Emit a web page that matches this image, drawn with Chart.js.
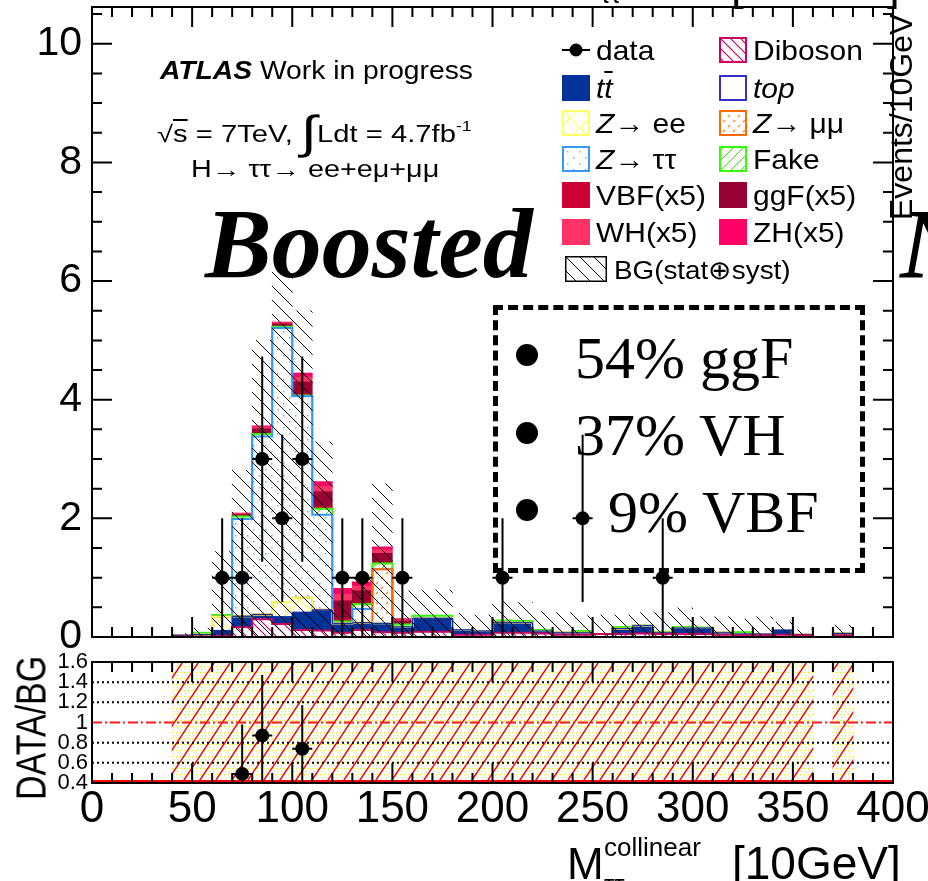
<!DOCTYPE html>
<html lang="en"><head><meta charset="utf-8"><title>Boosted - M collinear</title>
<script src="https://cdn.jsdelivr.net/npm/chart.js@4.4.1/dist/chart.umd.min.js"></script>
<style>
html,body{margin:0;padding:0;background:#fff;}
#wrap{position:relative;width:928px;height:881px;overflow:hidden;font-family:"Liberation Sans",Arial,Helvetica,sans-serif;color:#000;}
#wrap canvas.full{position:absolute;left:0;top:0;}
.t{position:absolute;white-space:nowrap;line-height:1;transform-origin:0 0;}
.serif{font-family:"Liberation Serif","Times New Roman",serif;}
.ov{text-decoration:overline;}
.dot{position:absolute;width:22px;height:22px;border-radius:50%;background:#000;}
#box{position:absolute;left:493px;top:305px;width:362px;height:258px;border:5px dashed #000;}
</style></head>
<body><div id="wrap">
<canvas id="main" class="full" width="928" height="881"></canvas>
<canvas id="ratio" class="full" width="928" height="881"></canvas>
<div id="box"></div>
</div>
<script>
// ---------------- data ----------------
const binCenters = [5,15,25,35,45,55,65,75,85,95,105,115,125,135,145,155,165,175,185,195,205,215,225,235,245,255,265,275,285,295,305,315,325,335,345,355,365,375,385,395];
const diboson = [0,0,0,0,0.01,0.01,0.02,0.17,0.30,0.22, 0.12,0.11,0.07,0.12,0.08,0.07,0.09,0.09,0.04,0.04, 0.07,0.07,0.06,0.04,0.04,0.05,0.05,0.06,0.05,0.05, 0.05,0.04,0.03,0.03,0.04,0.03,0,0.03,0,0];
const ttbar = [0,0,0,0,0.02,0.03,0.09,0.18,0.08,0.12, 0.29,0.34,0.16,0.12,0.15,0.10,0.22,0.22,0.08,0.06, 0.17,0.17,0.04,0.03,0.03,0,0.09,0.13,0.02,0.10, 0.10,0.03,0.02,0.02,0.07,0.01,0,0.03,0,0];
const singleTop = [0,0,0,0,0,0,0,0,0,0, 0.01,0.01,0,0,0,0,0.01,0.01,0,0, 0.01,0,0,0,0,0,0,0,0,0, 0,0,0,0,0.01,0,0,0,0,0];
const zee = [0,0,0,0,0,0,0.23,0,0,0.25, 0.24,0,0,0,0,0,0,0,0,0, 0,0,0,0,0,0,0,0,0,0, 0,0,0,0,0,0,0,0,0,0];
const zmumu = [0,0,0,0,0,0,0,0,0,0, 0,0,0,0,0.91,0,0,0,0,0, 0,0,0,0,0,0,0,0,0,0, 0,0,0,0,0,0,0,0,0,0];
const ztautau = [0,0,0,0,0,0,0,1.64,3.00,4.62, 3.40,1.60,0,0.23,0,0,0,0,0,0, 0,0,0,0,0,0,0,0,0,0, 0,0,0,0,0,0,0,0,0,0];
const fake = [0,0,0,0,0,0.03,0.03,0.04,0.04,0.02, 0.01,0.10,0.03,0.08,0.10,0.04,0.04,0.04,0,0, 0.03,0.03,0.02,0,0.03,0,0.03,0,0.02,0.02, 0.01,0,0.03,0,0,0,0,0,0,0];
const vbf = [0,0,0,0,0,0,0,0.005,0.01,0.01, 0.03,0.04,0.05,0.03,0.02,0.01,0,0,0,0, 0,0,0,0,0,0,0,0,0,0, 0,0,0,0,0,0,0,0,0,0];
const ggf = [0,0,0,0,0,0,0,0.03,0.08,0.04, 0.20,0.25,0.30,0.20,0.15,0.05,0,0,0,0, 0,0,0,0,0,0,0,0,0,0, 0,0,0,0,0,0,0,0,0,0];
const wh = [0,0,0,0,0,0,0,0.015,0.03,0.02, 0.08,0.09,0.11,0.08,0.06,0.02,0,0,0,0, 0,0,0,0,0,0,0,0,0,0, 0,0,0,0,0,0,0,0,0,0];
const zh = [0,0,0,0,0,0,0,0.01,0.02,0.01, 0.07,0.08,0.10,0.07,0.05,0.02,0,0,0,0, 0,0,0,0,0,0,0,0,0,0, 0,0,0,0,0,0,0,0,0,0];
const bgBandHigh = [0,0,0,0,0.06,0.15,1.44,2.81,5.00,6.15, 5.50,3.29,0.56,1.00,2.58,0.78,0.79,0.79,0.40,0.37, 0.62,0.58,0.43,0.41,0.36,0.37,0.37,0.41,0.41,0.49, 0.34,0.34,0.30,0.34,0.25,0.12,0,0.20,0,0];
const dataX = [65,75,85,95,105,125,135,155,205,245,285];
const dataY = [1,1,3,2,3,1,1,1,1,2,1];
const dataErr = [1,1,1.73,1.41,1.73,1,1,1,1,1.41,1];
const ratioX = [75,85,105];
const ratioY = [0.49,0.87,0.74];
const ratioErrUp = [0.49,0.60,0.43];
const ratioErrDown = [0.49,0.51,0.43];
const ratioBandRel = [0,0,0,0,1,1,1,1,1,1, 1,1,1,1,1,1,1,1,1,1, 1,1,1,1,1,1,1,1,1,1, 1,1,1,1,1,1,0,1,0,0];
const ratioGuides = [0.6,0.8,1.2,1.4];
const ratioUnity = 1.0;
const yTicksMain = [0,2,4,6,8,10];
const xTickLabels = [0,50,100,150,200,250,300,350,400];
const ratioTicks = [0.4,0.6,0.8,1,1.2,1.4,1.6];
const YMAX = 10.62;

// ---------------- patterns ----------------
function makeTile(w,h,bg,draw){const c=document.createElement('canvas');c.width=w;c.height=h;const g=c.getContext('2d');if(bg){g.fillStyle=bg;g.fillRect(0,0,w,h);}draw(g,w,h);return c;}
function slashes(g,w,h,dir,col,lw){g.strokeStyle=col;g.lineWidth=lw;g.beginPath();for(const s of [-w,0,w]){if(dir==='\\'){g.moveTo(s-w,-h);g.lineTo(s+2*w,2*h);}else{g.moveTo(s-w,2*h);g.lineTo(s+2*w,-h);}}g.stroke();}
const pctx=document.createElement('canvas').getContext('2d');
const pat=c=>pctx.createPattern(c,'repeat');
const P={
 dib: pat(makeTile(10,10,'#fff',(g,w,h)=>slashes(g,w,h,'\\','#cc0066',1.2))),
 zee: pat(makeTile(20,20,'#fff',(g,w,h)=>{slashes(g,w,h,'\\','#ffff80',1.5);slashes(g,w,h,'/','#ffff80',1.5);})),
 zmm: pat(makeTile(10,10,'#fff',(g)=>{g.strokeStyle='#ff8c1a';g.lineWidth=1.3;g.beginPath();g.moveTo(1,9);g.lineTo(3,7);g.moveTo(6,4);g.lineTo(8,2);g.stroke();})),
 ztt: pat(makeTile(12,12,'#fff',(g)=>{g.fillStyle='#66b3ff';g.fillRect(1,1,1.5,1.5);g.fillRect(7,7,1.5,1.5);})),
 fake: pat(makeTile(10,10,'#fff',(g,w,h)=>slashes(g,w,h,'/','#33ee00',1))),
 band: pat(makeTile(14,14,null,(g,w,h)=>slashes(g,w,h,'\\','#000',1))),
 rband: pat(makeTile(16,24,'#fff',(g,w,h)=>{g.fillStyle='#ffee00';for(let x=0;x<w;x+=4)for(let y=0;y<h;y+=3)g.fillRect(x+(y%2),y,1.2,1.2);slashes(g,w,h,'/','#ee0011',1.5);}))
};

// ---------------- stack definition (bottom to top) ----------------
const stackDefs=[
 {label:'Diboson',v:diboson,bg:P.dib,line:'#cc0066',lw:2},
 {label:'ttbar',v:ttbar,bg:'#033399',line:'#033399',lw:1},
 {label:'top',v:singleTop,bg:'#ffffff',line:'#3333cc',lw:1},
 {label:'Zee',v:zee,bg:P.zee,line:'#ffff66',lw:2},
 {label:'Zmumu',v:zmumu,bg:P.zmm,line:'#ff6a00',lw:2},
 {label:'Ztautau',v:ztautau,bg:P.ztt,line:'#3399ff',lw:2},
 {label:'Fake',v:fake,bg:P.fake,line:'#33ff00',lw:2},
 {label:'VBF',v:vbf,bg:'#cc0033'},
 {label:'ggF',v:ggf,bg:'#990033'},
 {label:'WH',v:wh,bg:'#ff3366'},
 {label:'ZH',v:zh,bg:'#ff0066'}
];
const mainDatasets=[];
const cum=binCenters.map(()=>0);
stackDefs.forEach((d,k)=>{
 mainDatasets.push({type:'bar',label:d.label,data:binCenters.map((c,i)=>({x:c,y:d.v[i]})),backgroundColor:d.bg,borderWidth:0,order:100+k,yAxisID:'y',barPercentage:1,categoryPercentage:1});
 d.v.forEach((v,i)=>cum[i]+=v);
 if(d.line){
  const cc=cum.slice();
  mainDatasets.push({type:'line',label:d.label+' outline',data:[{x:0,y:cc[0]}].concat(binCenters.map((c,i)=>({x:c,y:cc[i]})),[{x:400,y:cc[cc.length-1]}]),
   stepped:'middle',borderColor:d.line,borderWidth:d.lw,pointRadius:0,fill:false,yAxisID:'y2',order:10+k});
 }
});
mainDatasets.push({type:'bar',label:'BG(stat+syst)',data:binCenters.map((c,i)=>({x:c,y:bgBandHigh[i]})),backgroundColor:P.band,borderWidth:0,stack:'band',grouped:false,order:5,yAxisID:'y2',barPercentage:1,categoryPercentage:1});
mainDatasets.push({type:'scatter',label:'data',data:dataX.map((x,i)=>({x:x,y:dataY[i]})),pointRadius:7,pointBackgroundColor:'#000',pointBorderWidth:0,yAxisID:'y2',order:0});

function tickFrame(ctx,a,xs,yTicksDef){
 ctx.save();ctx.strokeStyle='#000';ctx.lineWidth=2;ctx.beginPath();
 for(let v=0;v<=400;v+=10){const p=xs.getPixelForValue(v);const L=v%50===0?20:10;ctx.moveTo(p,a.bottom);ctx.lineTo(p,a.bottom-L);ctx.moveTo(p,a.top);ctx.lineTo(p,a.top+L);}
 if(yTicksDef){const ys=yTicksDef.scale;for(let v=yTicksDef.min;v<=yTicksDef.max+1e-9;v+=yTicksDef.step){const p=ys.getPixelForValue(v);const maj=Math.abs(v/yTicksDef.major-Math.round(v/yTicksDef.major))<1e-6;const L=maj?20:10;ctx.moveTo(a.left,p);ctx.lineTo(a.left+L,p);ctx.moveTo(a.right,p);ctx.lineTo(a.right-L,p);}}
 ctx.stroke();ctx.strokeRect(a.left,a.top,a.right-a.left,a.bottom-a.top);ctx.restore();
}
function errBars(ctx,a,xs,ys,X,Y,up,dn){
 ctx.save();ctx.beginPath();ctx.rect(a.left,a.top,a.right-a.left,a.bottom-a.top);ctx.clip();
 ctx.strokeStyle='#000';ctx.lineWidth=2;ctx.beginPath();
 X.forEach((x,i)=>{const px=xs.getPixelForValue(x);ctx.moveTo(px,ys.getPixelForValue(Y[i]+up[i]));ctx.lineTo(px,ys.getPixelForValue(Math.max(Y[i]-dn[i],ys.min)));
  const py=ys.getPixelForValue(Y[i]);ctx.moveTo(xs.getPixelForValue(x-5),py);ctx.lineTo(xs.getPixelForValue(x+5),py);});
 ctx.stroke();ctx.restore();
}
const noPadV=s=>{s.paddingTop=0;s.paddingBottom=0;};
const noPadH=s=>{s.paddingLeft=0;s.paddingRight=0;};
const mainDecor={id:'mainDecor',
 afterDatasetsDraw(chart){errBars(chart.ctx,chart.chartArea,chart.scales.x,chart.scales.y2,dataX,dataY,dataErr,dataErr);},
 afterDraw(chart){tickFrame(chart.ctx,chart.chartArea,chart.scales.x,{scale:chart.scales.y,min:0,max:10.5,step:0.5,major:2});}
};
new Chart(document.getElementById('main'),{
 type:'bar',data:{datasets:mainDatasets},
 options:{responsive:false,animation:false,devicePixelRatio:1,
  layout:{padding:{left:0,top:6,right:35,bottom:244}},
  plugins:{legend:{display:false},tooltip:{enabled:false}},
  scales:{
   x:{type:'linear',min:0,max:400,stacked:true,display:false,offset:false},
   y:{type:'linear',min:0,max:YMAX,stacked:true,position:'left',
      afterBuildTicks:s=>{s.ticks=yTicksMain.map(v=>({value:v}));},
      afterFit:s=>{s.width=92;noPadV(s);},
      grid:{display:false,drawTicks:false},border:{display:false},
      ticks:{padding:10,color:'#000',autoSkip:false,font:{family:'Liberation Sans',size:41},callback:v=>String(v)}},
   y2:{type:'linear',min:0,max:YMAX,display:false,stacked:false}
  }},
 plugins:[mainDecor]
});

// ---------------- ratio panel ----------------
const ratioDecor={id:'ratioDecor',
 beforeDatasetDraw(chart,args){
  if(args.meta.type!=='scatter')return;
  const {ctx,chartArea:a}=chart;const ys=chart.scales.y;
  ctx.save();ctx.lineWidth=2;ctx.strokeStyle='#000';ctx.setLineDash([2,3]);
  ratioGuides.forEach(v=>{const p=ys.getPixelForValue(v);ctx.beginPath();ctx.moveTo(a.left,p);ctx.lineTo(a.right,p);ctx.stroke();});
  ctx.strokeStyle='#ff1a1a';ctx.setLineDash([10,3,2,3]);const p1=ys.getPixelForValue(ratioUnity);ctx.beginPath();ctx.moveTo(a.left,p1);ctx.lineTo(a.right,p1);ctx.stroke();
  ctx.setLineDash([]);ctx.strokeStyle='#ff0000';ctx.lineWidth=2;ctx.beginPath();ctx.moveTo(a.left,a.bottom-2);ctx.lineTo(a.right,a.bottom-2);ctx.stroke();
  ctx.restore();
 },
 afterDatasetsDraw(chart){errBars(chart.ctx,chart.chartArea,chart.scales.x,chart.scales.y,ratioX,ratioY,ratioErrUp,ratioErrDown);},
 afterDraw(chart){tickFrame(chart.ctx,chart.chartArea,chart.scales.x,null);}
};
new Chart(document.getElementById('ratio'),{
 type:'bar',
 data:{datasets:[
  {type:'bar',label:'BG band',data:binCenters.map((c,i)=>({x:c,y:ratioBandRel[i]>0?[1-ratioBandRel[i],1+ratioBandRel[i]]:null})),backgroundColor:P.rband,borderWidth:0,barPercentage:1,categoryPercentage:1,order:2},
  {type:'scatter',label:'data/BG',data:ratioX.map((x,i)=>({x:x,y:ratioY[i]})),pointRadius:7,pointBackgroundColor:'#000',pointBorderWidth:0,order:0}
 ]},
 options:{responsive:false,animation:false,devicePixelRatio:1,
  layout:{padding:{left:0,top:662,right:35,bottom:38}},
  plugins:{legend:{display:false},tooltip:{enabled:false}},
  scales:{
   x:{type:'linear',min:0,max:400,position:'bottom',offset:false,
      afterBuildTicks:s=>{s.ticks=xTickLabels.map(v=>({value:v}));},
      afterFit:s=>{s.height=60;noPadH(s);},
      grid:{display:false,drawTicks:false,offset:false},border:{display:false},
      ticks:{padding:0,color:'#000',autoSkip:false,maxRotation:0,font:{family:'Liberation Sans',size:44},callback:v=>String(v)}},
   y:{type:'linear',min:0.4,max:1.6,position:'left',
      afterBuildTicks:s=>{s.ticks=ratioTicks.map(v=>({value:v}));},
      afterFit:s=>{s.width=92;noPadV(s);},
      grid:{display:false,drawTicks:false},border:{display:false},
      ticks:{padding:4,color:'#000',autoSkip:false,font:{family:'Liberation Sans',size:22},callback:v=>String(v)}}
  }},
 plugins:[ratioDecor]
});

// ---------------- text overlays & legend ----------------
const W=document.getElementById('wrap');
function txt(html,x,base,size,serif,sx){const d=document.createElement('div');d.className='t'+(serif?' serif':'');d.style.left=x+'px';d.style.top=(base-(serif?0.8375:0.8465)*size)+'px';d.style.fontSize=size+'px';if(sx)d.style.transform='scaleX('+sx+')';d.innerHTML=html;W.appendChild(d);return d;}
function sw(x,y,w,h,fill,stroke,lw){const c=document.createElement('canvas');c.width=w+4;c.height=h+4;c.style.cssText='position:absolute;left:'+(x-2)+'px;top:'+(y-2)+'px';const g=c.getContext('2d');g.fillStyle=fill;g.fillRect(2,2,w,h);if(stroke){g.strokeStyle=stroke;g.lineWidth=lw;g.strokeRect(2+lw/2,2+lw/2,w-lw,h-lw);}W.appendChild(c);}

txt('<b><i>ATLAS</i></b> Work in progress',160,79,25,false,1.13);
txt('\u221A<span class="ov">s</span> = 7TeV, <span style="font-size:46px;position:relative;top:6px;line-height:0">\u222B</span>Ldt = 4.7fb<span style="font-size:14px;position:relative;top:-11px">-1</span>',157,142,23,false,1.27);
txt('H\u2192 \u03C4\u03C4\u2192 ee+e\u03BC+\u03BC\u03BC',191,177,23,false,1.25);

const rowsB=[61,99,134,170,206,243,279];
const LX=562,RX=719,TLX=596,TRX=753;
(function(){const c=document.createElement('canvas');c.width=32;c.height=20;c.style.cssText='position:absolute;left:560px;top:40px';const g=c.getContext('2d');g.strokeStyle='#000';g.lineWidth=2;g.beginPath();g.moveTo(2,10);g.lineTo(30,10);g.stroke();g.beginPath();g.arc(16,10,6.5,0,Math.PI*2);g.fill();W.appendChild(c);})();
const LS=1.07;
txt('data',TLX,rowsB[0],28,false,LS);
sw(LX,rowsB[1]-24,28,26,'#033399');txt('<i>t<span class="ov">t</span></i>',TLX,rowsB[1],28,false,LS);
sw(LX,rowsB[2]-24,28,26,P.zee,'#ffff66',2);txt('<i>Z</i>\u2192 ee',TLX,rowsB[2],28,false,LS);
sw(LX,rowsB[3]-24,28,26,P.ztt,'#3399ff',2);txt('<i>Z</i>\u2192 \u03C4\u03C4',TLX,rowsB[3],28,false,LS);
sw(LX,rowsB[4]-24,28,26,'#cc0033');txt('VBF(x5)',TLX,rowsB[4],28,false,LS);
sw(LX,rowsB[5]-24,28,26,'#ff3366');txt('WH(x5)',TLX,rowsB[5],28,false,LS);
sw(565,rowsB[6]-23,42,26,P.band,'#000',1.5);txt('BG(stat\u2295syst)',614,rowsB[6],26,false,LS);
sw(RX,rowsB[0]-24,28,26,P.dib,'#cc0066',2);txt('Diboson',TRX,rowsB[0],28,false,LS);
sw(RX,rowsB[1]-24,28,26,'#fff','#3333cc',2);txt('<i>top</i>',TRX,rowsB[1],28,false,LS);
sw(RX,rowsB[2]-24,28,26,P.zmm,'#ff6a00',2);txt('<i>Z</i>\u2192 \u03BC\u03BC',TRX,rowsB[2],28,false,LS);
sw(RX,rowsB[3]-24,28,26,P.fake,'#33ff00',2);txt('Fake',TRX,rowsB[3],28,false,LS);
sw(RX,rowsB[4]-24,28,26,'#990033');txt('ggF(x5)',TRX,rowsB[4],28,false,LS);
sw(RX,rowsB[5]-24,28,26,'#ff0066');txt('ZH(x5)',TRX,rowsB[5],28,false,LS);

// slide annotations
txt('<b><i>Boosted</i></b>',205,278,100,true);
txt('<b><i>N</i></b>',900,278,100,true);
[355,433,510].forEach(cy=>{const d=document.createElement('div');d.className='dot';d.style.left='516px';d.style.top=(cy-11)+'px';W.appendChild(d);});
txt('54% ggF',575,378,60,true);
txt('37% VH',575,455,60,true);
txt('9% VBF',608,532,60,true);

// axis titles
const ev=txt('Events/10GeV',885,220,32);ev.style.top='220px';ev.style.transform='rotate(-90deg)';
const db=txt('DATA/BG',9,800,34);db.style.top='800px';db.style.transform='rotate(-90deg) scale(1,1.25)';
txt('M',567,879,44);
txt('collinear',604,856,26);
txt('\u03C4\u03C4',604,893,26);
txt('[10GeV]',732,879,46);
// fragments of the neighbouring plot above
txt('\u03C4\u03C4',600,3,26);
txt('[10GeV]',731,-1,46);
</script>
</body></html>
